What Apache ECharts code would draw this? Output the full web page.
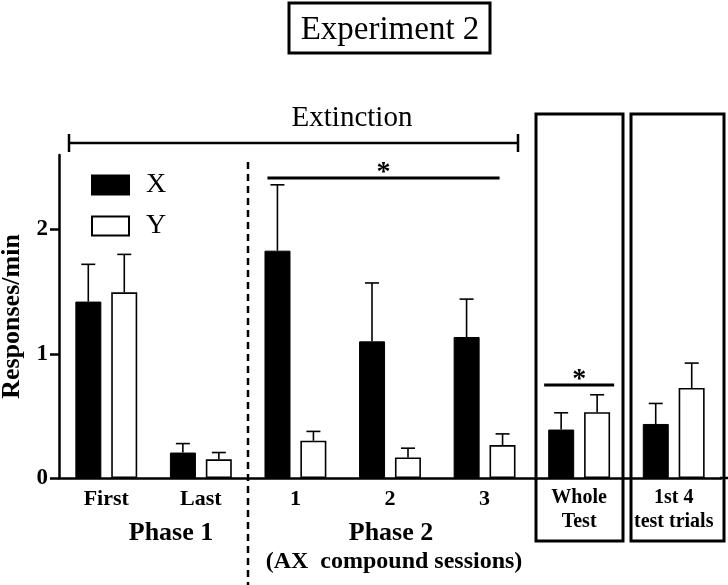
<!DOCTYPE html>
<html>
<head>
<meta charset="utf-8">
<script src="https://cdn.jsdelivr.net/npm/echarts@6/dist/echarts.min.js"></script>
<style>html,body{margin:0;padding:0;background:#fff}#c{width:728px;height:585px}</style>
</head>
<body>
<div id="c"></div>
<script>
// ---- data ----
var categories = ['First', 'Last', '1', '2', '3', 'Whole\nTest', '1st 4\ntest trials'];
var xMeans  = [1.42, 0.205, 1.83, 1.10, 1.135, 0.39, 0.435];
var yMeans  = [1.495, 0.15, 0.30, 0.165, 0.265, 0.53, 0.725];
var xUpper  = [1.72, 0.277, 2.36, 1.57, 1.44, 0.525, 0.60];
var yUpper  = [1.80, 0.205, 0.375, 0.24, 0.355, 0.67, 0.925];
var yTicks  = [0, 1, 2];
// significance bars: [startCategoryIndex, endCategoryIndex, yValue]
var sigBars = [[2, 4, 2.415], [5, 5, 0.748]];

var FONT = '"Liberation Serif", "DejaVu Serif", serif';
var chart = echarts.init(document.getElementById('c'));

function errSeries(name, means, upper, offset) {
  return {
    type: 'custom', name: name + ' err', z: 5, silent: true,
    data: categories.map(function (c, i) { return [i, means[i], upper[i]]; }),
    renderItem: function (params, api) {
      var p0 = api.coord([api.value(0), api.value(1)]);
      var p1 = api.coord([api.value(0), api.value(2)]);
      var x = p0[0] + offset;
      var st = { stroke: '#000', lineWidth: 1.6 };
      return { type: 'group', children: [
        { type: 'line', shape: { x1: x, y1: p0[1], x2: x, y2: p1[1] }, style: st },
        { type: 'line', shape: { x1: x - 7, y1: p1[1], x2: x + 7, y2: p1[1] }, style: st }
      ]};
    }
  };
}

var option = {
  animation: false,
  backgroundColor: '#fff',
  grid: { left: 59, top: 155, right: 7, bottom: 107, containLabel: false, outerBoundsMode: 'none' },
  legend: {
    left: 91, top: 171, padding: 0, orient: 'vertical', itemWidth: 37, itemHeight: 19, itemGap: 13,
    icon: 'rect', data: ['X', 'Y'],
    textStyle: { fontFamily: FONT, fontSize: 28, lineHeight: 19, color: '#000', padding: [0, 0, 0, 12] }
  },
  xAxis: {
    type: 'category', data: categories,
    axisLine: { lineStyle: { color: '#000', width: 2.5 } },
    axisTick: { alignWithLabel: true, length: 7, lineStyle: { color: '#000', width: 2.5 } },
    axisLabel: {
      interval: 0, margin: 8, color: '#000', fontFamily: FONT, fontWeight: 'bold',
      formatter: function (v, i) {
        if (i >= 5) return v.split('\n').map(function (s) { return '{s|' + s + '}'; }).join('\n');
        return '{m|' + v + '}';
      },
      rich: {
        m: { fontFamily: FONT, fontWeight: 'bold', fontSize: 22, lineHeight: 22, padding: [5, 0, 0, 0], color: '#000' },
        s: { fontFamily: FONT, fontWeight: 'bold', fontSize: 20, lineHeight: 24, color: '#000' }
      }
    }
  },
  yAxis: {
    type: 'value', min: 0, max: 2.6, interval: 1,
    name: 'Responses/min', nameLocation: 'middle', nameGap: 34,
    nameTextStyle: { fontFamily: FONT, fontWeight: 'bold', fontSize: 26, color: '#000' },
    splitLine: { show: false },
    axisLine: { show: true, lineStyle: { color: '#000', width: 2.5 } },
    axisTick: { show: true, length: 9, customValues: yTicks, lineStyle: { color: '#000', width: 2.5 } },
    axisLabel: { customValues: yTicks, margin: 11, color: '#000', fontFamily: FONT, fontWeight: 'bold', fontSize: 23 }
  },
  series: [
    { name: 'X', type: 'bar', data: xMeans, barWidth: 26, barGap: '38%',
      itemStyle: { color: '#000', borderColor: '#000', borderWidth: 1 } },
    { name: 'Y', type: 'bar', data: yMeans, barWidth: 26,
      itemStyle: { color: '#fff', borderColor: '#000', borderWidth: 1.6 } },
    errSeries('X', xMeans, xUpper, -18),
    errSeries('Y', yMeans, yUpper, 18),
    { type: 'custom', name: 'sig', z: 6, silent: true,
      data: sigBars,
      renderItem: function (params, api) {
        var a = api.coord([api.value(0), api.value(2)]);
        var b = api.coord([api.value(1), api.value(2)]);
        var single = api.value(0) === api.value(1);
        var x1 = a[0] + (single ? -35 : -28);
        var x2 = b[0] + (single ? 35 : 15);
        return { type: 'group', children: [
          { type: 'line', shape: { x1: x1, y1: a[1], x2: x2, y2: a[1] }, style: { stroke: '#000', lineWidth: 3 } },
          { type: 'text', style: { text: '*', x: (x1 + x2) / 2, y: a[1] - 5, align: 'center', verticalAlign: 'middle',
              fontFamily: FONT, fontSize: 28, fontWeight: 'bold', fill: '#000' } }
        ]};
      }
    }
  ],
  graphic: [
    // title box
    { type: 'rect', shape: { x: 289, y: 3, width: 201, height: 50 }, style: { fill: 'none', stroke: '#000', lineWidth: 3 } },
    { type: 'text', x: 390, y: 30, style: { text: 'Experiment 2', fontFamily: FONT, fontSize: 33, fill: '#000', align: 'center', verticalAlign: 'middle' } },
    // extinction bracket
    { type: 'text', x: 352, y: 118, style: { text: 'Extinction', fontFamily: FONT, fontSize: 29, fill: '#000', align: 'center', verticalAlign: 'middle' } },
    { type: 'line', shape: { x1: 69, y1: 143, x2: 518, y2: 143 }, style: { stroke: '#000', lineWidth: 2.5 } },
    { type: 'line', shape: { x1: 69, y1: 134, x2: 69, y2: 152 }, style: { stroke: '#000', lineWidth: 2.5 } },
    { type: 'line', shape: { x1: 518, y1: 134, x2: 518, y2: 152 }, style: { stroke: '#000', lineWidth: 2.5 } },
    // dashed separator
    { type: 'line', shape: { x1: 248, y1: 162, x2: 248, y2: 585 }, style: { stroke: '#000', lineWidth: 2.5, lineDash: [7, 5] } },
    // axis extension
    { type: 'line', shape: { x1: 720, y1: 478, x2: 728, y2: 478 }, style: { stroke: '#000', lineWidth: 2.5 } },
    // test boxes
    { type: 'rect', shape: { x: 536, y: 114, width: 87, height: 427 }, style: { fill: 'none', stroke: '#000', lineWidth: 3 } },
    { type: 'rect', shape: { x: 631, y: 114, width: 93, height: 427 }, style: { fill: 'none', stroke: '#000', lineWidth: 3 } },
    // phase labels
    { type: 'text', x: 171, y: 533, style: { text: 'Phase 1', fontFamily: FONT, fontWeight: 'bold', fontSize: 26, fill: '#000', align: 'center', verticalAlign: 'middle' } },
    { type: 'text', x: 391, y: 533, style: { text: 'Phase 2', fontFamily: FONT, fontWeight: 'bold', fontSize: 26, fill: '#000', align: 'center', verticalAlign: 'middle' } },
    { type: 'text', x: 394, y: 562, style: { text: '(AX  compound sessions)', fontFamily: FONT, fontWeight: 'bold', fontSize: 24, fill: '#000', align: 'center', verticalAlign: 'middle' } }
  ]
};
chart.setOption(option);
</script>
</body>
</html>
